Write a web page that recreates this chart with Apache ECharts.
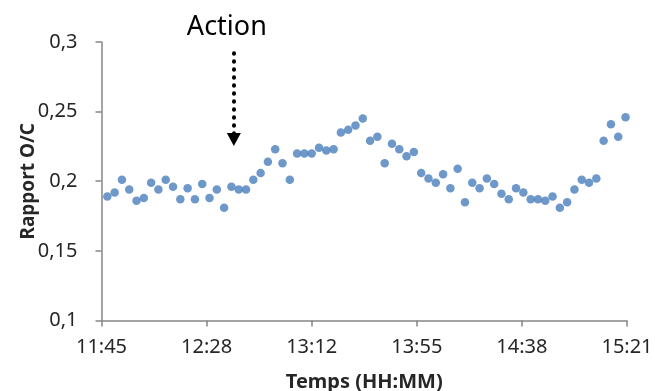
<!DOCTYPE html>
<html>
<head>
<meta charset="utf-8">
<script src="https://cdn.jsdelivr.net/npm/echarts@6/dist/echarts.min.js"></script>
<style>
  html, body { margin: 0; padding: 0; background: #ffffff; }
  #chart { width: 655px; height: 391px; }
</style>
</head>
<body>
<div id="chart"></div>
<script>
// Sampling times (HH:MM), one reading every 3 minutes
const times = [
  '11:48','11:51','11:54','11:57','12:00','12:03','12:06','12:09','12:12','12:15',
  '12:18','12:21','12:24','12:27','12:30','12:33','12:36','12:39','12:42','12:45',
  '12:48','12:51','12:54','12:57','13:00','13:03','13:06','13:09','13:12','13:15',
  '13:18','13:21','13:24','13:27','13:30','13:33','13:36','13:39','13:42','13:45',
  '13:48','13:51','13:54','13:57','14:00','14:03','14:06','14:09','14:12','14:15',
  '14:18','14:21','14:24','14:27','14:30','14:33','14:36','14:39','14:42','14:45',
  '14:48','14:51','14:54','14:57','15:00','15:03','15:06','15:09','15:12','15:15',
  '15:18','15:21'
];

// O/C ratio measured at each time
const ratios = [
  0.189, 0.192, 0.201, 0.194, 0.186, 0.188, 0.199, 0.194, 0.201, 0.196,
  0.187, 0.195, 0.187, 0.198, 0.188, 0.194, 0.181, 0.196, 0.194, 0.194,
  0.201, 0.206, 0.214, 0.223, 0.213, 0.201, 0.220, 0.220, 0.220, 0.224,
  0.222, 0.223, 0.235, 0.237, 0.240, 0.245, 0.229, 0.232, 0.213, 0.227,
  0.223, 0.218, 0.221, 0.206, 0.202, 0.199, 0.205, 0.195, 0.209, 0.185,
  0.199, 0.195, 0.202, 0.198, 0.191, 0.187, 0.195, 0.192, 0.187, 0.187,
  0.186, 0.189, 0.181, 0.185, 0.194, 0.201, 0.199, 0.202, 0.229, 0.241,
  0.232, 0.246
];

// Time axis tick labels (axis spans 0.49 to 0.64 day, step 0.03 day)
const timeTicks = ['11:45', '12:28', '13:12', '13:55', '14:38', '15:21'];
const axisStartMin = 705.6;   // 11:45:36 in minutes
const tickStepMin = 43.2;     // 0.03 day

// The "Action" marker
const actionTime = '12:40';
const actionTop = 0.292;
const actionBottom = 0.230;

function toMinutes(hhmm) {
  const [h, m] = hhmm.split(':').map(Number);
  return h * 60 + m - axisStartMin;
}

const points = times.map((t, i) => [toMinutes(t), ratios[i]]);
const actionX = toMinutes(actionTime);

const FONT = '"Noto Sans", "Open Sans", sans-serif';
const AXIS_COLOR = '#868686';
const TEXT_COLOR = '#262626';

const chart = echarts.init(document.getElementById('chart'), null, { renderer: 'canvas' });

chart.setOption({
  backgroundColor: '#ffffff',
  animation: false,
  grid: {
    left: 101.5, right: 28, top: 42, bottom: 70.5,
    containLabel: false,
    outerBoundsMode: 'none'
  },
  xAxis: {
    type: 'value',
    min: 0,
    max: tickStepMin * (timeTicks.length - 1),
    interval: tickStepMin,
    name: 'Temps (HH:MM)',
    nameLocation: 'middle',
    nameGap: 52,
    nameMoveOverlap: false,
    nameTextStyle: { fontFamily: FONT, fontSize: 20, fontWeight: 'bold', color: TEXT_COLOR },
    axisLine: { show: true, lineStyle: { color: AXIS_COLOR, width: 1.5 } },
    axisTick: { show: true, length: 6, lineStyle: { color: AXIS_COLOR, width: 1.5 } },
    splitLine: { show: false },
    axisLabel: {
      margin: 17,
      fontFamily: FONT,
      fontSize: 20,
      color: TEXT_COLOR,
      showMinLabel: true,
      showMaxLabel: true,
      formatter: (v) => timeTicks[Math.round(v / tickStepMin)] || ''
    }
  },
  yAxis: {
    type: 'value',
    min: 0.1,
    max: 0.3,
    interval: 0.05,
    name: 'Rapport O/C',
    nameLocation: 'middle',
    nameGap: 63,
    nameMoveOverlap: false,
    nameTextStyle: { fontFamily: FONT, fontSize: 19, fontWeight: 'bold', color: TEXT_COLOR },
    axisLine: { show: true, lineStyle: { color: AXIS_COLOR, width: 1.5 } },
    axisTick: { show: true, length: 6, lineStyle: { color: AXIS_COLOR, width: 1.5 } },
    splitLine: { show: false },
    axisLabel: {
      margin: 24,
      fontFamily: FONT,
      fontSize: 20,
      color: TEXT_COLOR,
      formatter: (v) => String(+v.toFixed(2)).replace('.', ',')
    }
  },
  series: [{
    type: 'scatter',
    data: points,
    symbol: 'circle',
    symbolSize: 8.5,
    itemStyle: { color: '#4A7EBB' },
    clip: false,
    markLine: {
      silent: true,
      symbol: ['none', 'triangle'],
      symbolSize: [14, 13],
      lineStyle: { color: '#000000', width: 4, type: [0.5, 7.5], cap: 'round' },
      itemStyle: { color: '#000000' },
      label: {
        show: true,
        position: 'start',
        distance: 12,
        offset: [-7, 0],
        formatter: 'Action',
        fontFamily: FONT,
        fontSize: 27,
        color: '#000000'
      },
      data: [[
        { coord: [actionX, actionTop] },
        { coord: [actionX, actionBottom] }
      ]]
    }
  }]
});
</script>
</body>
</html>
